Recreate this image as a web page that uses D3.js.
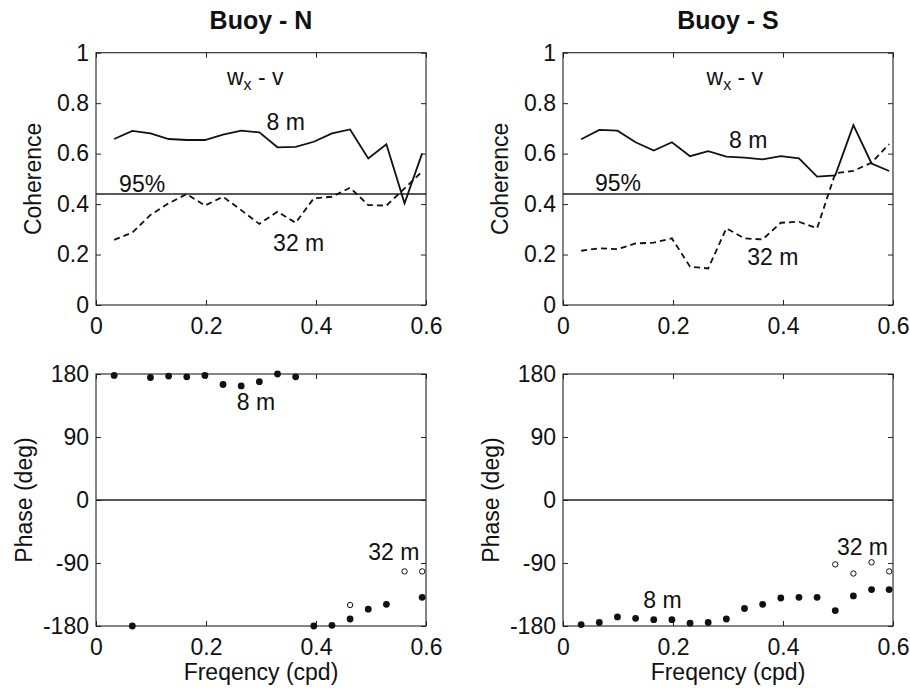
<!DOCTYPE html>
<html><head><meta charset="utf-8">
<script src="https://d3js.org/d3.v7.min.js"></script>
<style>body{margin:0;background:#fff}svg{display:block}text{font-family:"Liberation Sans",Arial,Helvetica,sans-serif;fill:#111}</style>
</head><body>
<script>
// ---- data ----
const freq = [0.033,0.066,0.099,0.132,0.165,0.198,0.231,0.264,0.297,0.330,0.363,0.396,0.429,0.462,0.495,0.528,0.561,0.593];
const cohN8  = [0.658,0.690,0.680,0.658,0.654,0.654,0.675,0.691,0.684,0.625,0.627,0.647,0.680,0.696,0.581,0.637,0.403,0.601];
const cohN32 = [0.258,0.287,0.357,0.403,0.440,0.394,0.429,0.376,0.321,0.370,0.326,0.423,0.429,0.465,0.396,0.394,0.462,0.529];
const cohS8  = [0.657,0.694,0.691,0.645,0.612,0.645,0.590,0.610,0.588,0.584,0.577,0.590,0.581,0.509,0.514,0.713,0.561,0.531];
const cohS32 = [0.215,0.225,0.221,0.244,0.247,0.264,0.152,0.145,0.304,0.264,0.260,0.326,0.330,0.304,0.522,0.532,0.564,0.638];
// phase (deg); null = not shown
const phN8  = [178,-180,175,177,176,178,165,163,169,180,176,-180,-179,-170,-156,-149,null,-139];
const phN32 = [null,null,null,null,null,null,null,null,null,null,null,null,null,-150,null,null,-102,-102];
const phS8  = [-178,-175,-167,-169,-171,-171,-176,-175,-170,-155,-149,-140,-139,-139,-158,-137,-128,-128];
const phS32 = [null,null,null,null,null,null,null,null,null,null,null,null,null,null,-92,-105,-89,-102];
const sig95 = 0.44;
const xTicks = [0,0.2,0.4,0.6];
const cohTicks = [0,0.2,0.4,0.6,0.8,1];
const phTicks = [-180,-90,0,90,180];
const titles = ["Buoy - N","Buoy - S"];

const W=910,H=688;
const svg=d3.select("body").append("svg").attr("width",W).attr("height",H);
const FS=23;
const cols=[{x0:96,x1:426},{x0:563,x1:893}];
const rowTop={y0:52.7,y1:305}, rowBot={y0:374,y1:626};
const hy = d=>String(d); // plain hyphen-minus like the original

function box(g,x,y,yTicks){
  const [xa,xb]=x.range(),[ya,yb]=y.range();
  const tl=5;
  g.append("g").attr("transform",`translate(0,${ya})`).call(d3.axisBottom(x).tickValues(xTicks).tickSize(-tl).tickFormat(hy).tickPadding(13))
   .call(a=>{a.select(".domain").remove();a.selectAll("text").attr("font-size",FS).attr("dy","0.71em");});
  g.append("g").attr("transform",`translate(0,${yb})`).call(d3.axisTop(x).tickValues(xTicks).tickSize(-tl).tickFormat(""))
   .call(a=>a.select(".domain").remove());
  g.append("g").attr("transform",`translate(${xa},0)`).call(d3.axisLeft(y).tickValues(yTicks).tickSize(-tl).tickFormat(hy).tickPadding(7))
   .call(a=>{a.select(".domain").remove();a.selectAll("text").attr("font-size",FS);});
  g.append("g").attr("transform",`translate(${xb},0)`).call(d3.axisRight(y).tickValues(yTicks).tickSize(-tl).tickFormat(""))
   .call(a=>a.select(".domain").remove());
  g.selectAll(".tick line").attr("stroke","#222");
  g.selectAll(".tick text").attr("fill","#111").attr("font-family","Liberation Sans, Arial, sans-serif");
  g.append("rect").attr("x",xa).attr("y",yb).attr("width",xb-xa).attr("height",ya-yb)
   .attr("fill","none").attr("stroke","#222").attr("stroke-width",1.1);
}
function label(g,x,y,fx,fy,t){
  g.append("text").attr("x",x(fx)).attr("y",y(fy)).attr("font-size",FS).text(t);
}
function wxv(g,x,y,fx,fy){
  const t=g.append("text").attr("x",x(fx)).attr("y",y(fy)).attr("font-size",FS);
  t.append("tspan").text("w");
  t.append("tspan").attr("font-size",16).attr("dy",5).text("x");
  t.append("tspan").attr("dy",-5).text(" - v");
}

const cohSets=[[cohN8,cohN32],[cohS8,cohS32]];
const phSets=[[phN8,phN32],[phS8,phS32]];
const cohLabels=[
  {w:[0.238,0.873],m8:[0.310,0.694],p95:[0.042,0.446],m32:[0.322,0.214]},
  {w:[0.261,0.873],m8:[0.302,0.622],p95:[0.058,0.450],m32:[0.335,0.159]}];
const phLabels=[{m8:[0.256,128.6],m32:[0.495,-85.7]},{m8:[0.146,-154.7],m32:[0.498,-78.6]}];

cols.forEach((c,i)=>{
  const x=d3.scaleLinear().domain([0,0.6]).range([c.x0,c.x1]);
  // ---- coherence ----
  const yc=d3.scaleLinear().domain([0,1]).range([rowTop.y1,rowTop.y0]);
  const g1=svg.append("g");
  box(g1,x,yc,cohTicks);
  g1.append("line").attr("x1",c.x0).attr("x2",c.x1).attr("y1",yc(sig95)).attr("y2",yc(sig95)).attr("stroke","#222").attr("stroke-width",1.3);
  const line=d3.line().x((d,j)=>x(freq[j])).y(d=>yc(d));
  g1.append("path").datum(cohSets[i][0]).attr("d",line).attr("fill","none").attr("stroke","#111").attr("stroke-width",1.8);
  g1.append("path").datum(cohSets[i][1]).attr("d",line).attr("fill","none").attr("stroke","#111").attr("stroke-width",1.8).attr("stroke-dasharray","6,4");
  const L=cohLabels[i];
  wxv(g1,x,yc,L.w[0],L.w[1]);
  label(g1,x,yc,L.m8[0],L.m8[1],"8 m");
  label(g1,x,yc,L.p95[0],L.p95[1],"95%");
  label(g1,x,yc,L.m32[0],L.m32[1],"32 m");
  g1.append("text").attr("transform",`translate(${c.x0-55},${(rowTop.y0+rowTop.y1)/2}) rotate(-90)`)
    .attr("text-anchor","middle").attr("font-size",FS).text("Coherence");
  svg.append("text").attr("x",(c.x0+c.x1)/2).attr("y",29).attr("text-anchor","middle")
    .attr("font-size",25).attr("font-weight","bold").text(titles[i]);

  // ---- phase ----
  const yp=d3.scaleLinear().domain([-180,180]).range([rowBot.y1,rowBot.y0]);
  const g2=svg.append("g");
  box(g2,x,yp,phTicks);
  g2.append("line").attr("x1",c.x0).attr("x2",c.x1).attr("y1",yp(0)).attr("y2",yp(0)).attr("stroke","#222").attr("stroke-width",1.3);
  const pts8=phSets[i][0].map((v,j)=>({f:freq[j],v})).filter(d=>d.v!==null);
  const pts32=phSets[i][1].map((v,j)=>({f:freq[j],v})).filter(d=>d.v!==null);
  g2.selectAll(".o").data(pts32).join("circle").attr("cx",d=>x(d.f)).attr("cy",d=>yp(d.v)).attr("r",2.7)
    .attr("fill","#fff").attr("stroke","#111").attr("stroke-width",1);
  g2.selectAll(".f").data(pts8).join("circle").attr("cx",d=>x(d.f)).attr("cy",d=>yp(d.v)).attr("r",3.4).attr("fill","#111");
  const P=phLabels[i];
  label(g2,x,yp,P.m8[0],P.m8[1],"8 m");
  label(g2,x,yp,P.m32[0],P.m32[1],"32 m");
  g2.append("text").attr("transform",`translate(${c.x0-64},${(rowBot.y0+rowBot.y1)/2}) rotate(-90)`)
    .attr("text-anchor","middle").attr("font-size",FS).text("Phase (deg)");
  g2.append("text").attr("x",(c.x0+c.x1)/2).attr("y",680).attr("text-anchor","middle").attr("font-size",FS).text("Freqency (cpd)");
});
</script>
</body></html>
